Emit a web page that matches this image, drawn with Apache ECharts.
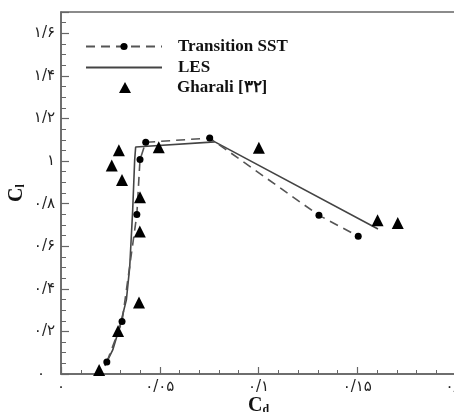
<!DOCTYPE html>
<html>
<head>
<meta charset="utf-8">
<script src="https://cdn.jsdelivr.net/npm/echarts@6/dist/echarts.min.js"></script>
<style>html,body{margin:0;padding:0;background:#fff;}#c{width:454px;height:412px;}</style>
</head>
<body>
<div id="c"></div>
<script>
// Transition SST (dashed line with circles)
var sstX = [0.0232, 0.0309, 0.0384, 0.0400, 0.0429, 0.0753, 0.1306, 0.1505];
var sstY = [0.056, 0.246, 0.749, 1.007, 1.088, 1.108, 0.745, 0.647];
// LES (solid line)
var lesX = [0.0222, 0.0262, 0.0297, 0.0331, 0.0348, 0.0363, 0.0373, 0.0378, 0.0779, 0.1605];
var lesY = [0.038, 0.113, 0.221, 0.348, 0.503, 0.770, 1.005, 1.066, 1.090, 0.681];
// Gharali [32] (triangles)
var ghX = [0.0193, 0.0289, 0.0395, 0.0399, 0.0400, 0.0309, 0.0257, 0.0293, 0.0495, 0.1002, 0.1603, 0.1705];
var ghY = [0.019, 0.202, 0.336, 0.669, 0.830, 0.911, 0.979, 1.051, 1.065, 1.063, 0.722, 0.709];
// tick labels
var xTickValues = [0, 0.05, 0.1, 0.15, 0.2];
var xTickLabels = ['۰', '۰/۰۵', '۰/۱', '۰/۱۵', '۰/۲'];
var yTickValues = [0, 0.2, 0.4, 0.6, 0.8, 1, 1.2, 1.4, 1.6];
var yTickLabels = ['۰', '۰/۲', '۰/۴', '۰/۶', '۰/۸', '۱', '۱/۲', '۱/۴', '۱/۶'];
var seriesNames = ['Transition SST', 'LES', 'Gharali [۳۲]'];

function zip(a, b) { return a.map(function (v, i) { return [v, b[i]]; }); }
function lookup(vals, labels, zeroRich) {
  return function (v) {
    for (var i = 0; i < vals.length; i++) if (Math.abs(vals[i] - v) < 1e-6) {
      if (i === 0 && zeroRich) return '{z|' + labels[i] + '}';
      return labels[i];
    }
    return '';
  };
}

var axisCol = '#666';
var labelFont = { fontFamily: 'DejaVu Sans', fontSize: 15, color: '#222' };
var titleRich = {
  c: { fontFamily: 'Liberation Serif', fontWeight: 'bold', fontSize: 20, color: '#111' },
  s: { fontFamily: 'Liberation Serif', fontWeight: 'bold', fontSize: 12, color: '#111', padding: [9, 0, 0, 0] }
};
var legendText = { fontFamily: 'Liberation Serif', fontWeight: 'bold', fontSize: 17, color: '#111', lineHeight: 17 };

var chart = echarts.init(document.getElementById('c'), null, { renderer: 'canvas' });
chart.setOption({
  animation: false,
  backgroundColor: '#fff',
  grid: { left: 61, top: 12, width: 395, height: 362, outerBoundsMode: 'none', containLabel: false,
    show: true, borderColor: axisCol, borderWidth: 1.5, backgroundColor: 'transparent' },
  legend: [{
    data: [seriesNames[0], { name: seriesNames[1], itemStyle: { opacity: 0 } }],
    orient: 'vertical', padding: 0,
    left: 85, top: 38,
    itemWidth: 76, itemHeight: 9, itemGap: 4,
    textStyle: Object.assign({ padding: [0, 0, 0, 11] }, legendText)
  }, {
    data: [seriesNames[2]],
    orient: 'vertical', padding: 0,
    left: 119, top: 79,
    itemWidth: 12, itemHeight: 11, itemGap: 4,
    textStyle: Object.assign({ padding: [0, 0, 0, 41] }, legendText)
  }],
  xAxis: [{
    type: 'value', min: 0, max: 0.2, interval: 0.05,
    name: '{c|C}{s|d}', nameLocation: 'middle', nameGap: 21, nameMoveOverlap: false,
    nameTextStyle: { rich: titleRich },
    axisLine: { lineStyle: { color: axisCol, width: 1.5 } },
    axisTick: { inside: true, length: 7, lineStyle: { color: axisCol, width: 1.2 } },
    axisLabel: Object.assign({ margin: 6, formatter: lookup(xTickValues, xTickLabels, false) }, labelFont),
    splitLine: { show: false }
  }, {
    type: 'value', min: 0, max: 0.2, interval: 0.01, position: 'bottom',
    axisLine: { show: false },
    axisTick: { inside: true, length: 4, lineStyle: { color: axisCol, width: 1 } },
    axisLabel: { show: false }, splitLine: { show: false }
  }],
  yAxis: [{
    type: 'value', min: 0, max: 1.7, interval: 0.2,
    name: '{c|C}{s|l}', nameLocation: 'middle', nameGap: 34, nameRotate: 90, nameMoveOverlap: false,
    nameTextStyle: { rich: titleRich },
    axisLine: { lineStyle: { color: axisCol, width: 1.5 } },
    axisTick: { inside: true, length: 8, lineStyle: { color: axisCol, width: 1.2 } },
    axisLabel: Object.assign({ margin: 6, formatter: lookup(yTickValues, yTickLabels, true),
      rich: { z: { fontFamily: 'DejaVu Sans', fontSize: 15, color: '#222', padding: [0, 10, 0, 0] } } }, labelFont),
    splitLine: { show: false }
  }, {
    type: 'value', min: 0, max: 1.7, interval: 0.05, position: 'left',
    axisLine: { show: false },
    axisTick: { inside: true, length: 5, lineStyle: { color: axisCol, width: 1 } },
    axisLabel: { show: false }, splitLine: { show: false }
  }],
  series: [{
    name: seriesNames[0], type: 'line', data: zip(sstX, sstY),
    symbol: 'circle', symbolSize: 7, showAllSymbol: true,
    itemStyle: { color: '#000', opacity: 1 },
    lineStyle: { color: '#555', width: 1.6, type: [9, 6] },
    z: 3
  }, {
    name: seriesNames[1], type: 'line', data: zip(lesX, lesY),
    symbol: 'none',
    itemStyle: { color: '#444' },
    lineStyle: { color: '#444', width: 1.6, type: 'solid' },
    z: 2
  }, {
    name: seriesNames[2], type: 'scatter', data: zip(ghX, ghY),
    symbol: 'triangle', symbolSize: 12,
    itemStyle: { color: '#000', opacity: 1 },
    z: 4
  }]
});
</script>
</body>
</html>
